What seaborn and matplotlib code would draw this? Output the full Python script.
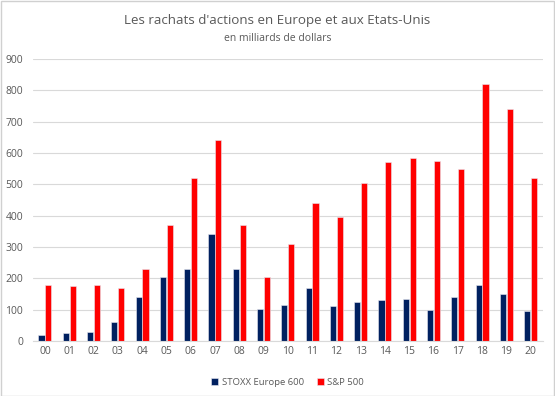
import pandas as pd
import matplotlib.pyplot as plt
import seaborn as sns

# years (x axis) and buybacks in billions of dollars
years = ["00", "01", "02", "03", "04", "05", "06", "07", "08", "09", "10",
         "11", "12", "13", "14", "15", "16", "17", "18", "19", "20"]
stoxx = [20, 25, 30, 60, 140, 205, 230, 340, 230, 103, 115,
         170, 110, 125, 130, 135, 100, 140, 178, 150, 95]
sp500 = [180, 175, 178, 170, 230, 370, 520, 640, 370, 205, 310,
         440, 395, 505, 570, 585, 575, 550, 820, 740, 520]
series = ["STOXX Europe 600", "S&P 500"]

df = pd.DataFrame({
    "annee": years * 2,
    "valeur": stoxx + sp500,
    "indice": [series[0]] * len(years) + [series[1]] * len(years),
})

sns.set_style("white")
plt.rcParams["font.family"] = ["Open Sans", "DejaVu Sans"]
txt = "#595959"

fig = plt.figure(figsize=(5.55, 3.96), dpi=100)
fig.patch.set_facecolor("white")
ax = fig.add_axes([0.059, 0.139, 0.919, 0.712])

sns.barplot(data=df, x="annee", y="valeur", hue="indice", hue_order=series,
            palette={series[0]: "#002060", series[1]: "#ff0000"},
            width=0.56, gap=0.1, edgecolor="#e8e8f0", linewidth=0.4,
            saturation=1, ax=ax)

ax.set_ylim(0, 900)
ax.set_yticks(range(0, 901, 100))
ax.set_xlim(-0.5, len(years) - 0.5)
ax.yaxis.grid(True, color="#d9d9d9", linewidth=0.8)
ax.set_axisbelow(True)
for s in ["top", "right", "left"]:
    ax.spines[s].set_visible(False)
ax.spines["bottom"].set_color("#d9d9d9")
ax.tick_params(axis="both", length=0, labelsize=7.5, colors=txt)
ax.tick_params(axis="y", pad=7)
ax.set_xlabel("")
ax.set_ylabel("")

ax.legend(loc="upper center", bbox_to_anchor=(0.5, -0.1), ncol=2, frameon=False,
          fontsize=6.8, labelcolor=txt, handlelength=0.7, handleheight=0.7,
          columnspacing=1.4, handletextpad=0.4)

fig.text(0.5, 0.948, "Les rachats d'actions en Europe et aux Etats-Unis",
         ha="center", va="center", fontsize=9.6, color=txt)
fig.text(0.5, 0.903, "en milliards de dollars", ha="center", va="center",
         fontsize=7.5, color=txt)

fig.add_artist(plt.Rectangle((0.001, 0.001), 0.997, 0.997, transform=fig.transFigure,
                             fill=False, edgecolor="#d0d0d0", linewidth=1))

fig.savefig("out.png", dpi=100, facecolor="white")
